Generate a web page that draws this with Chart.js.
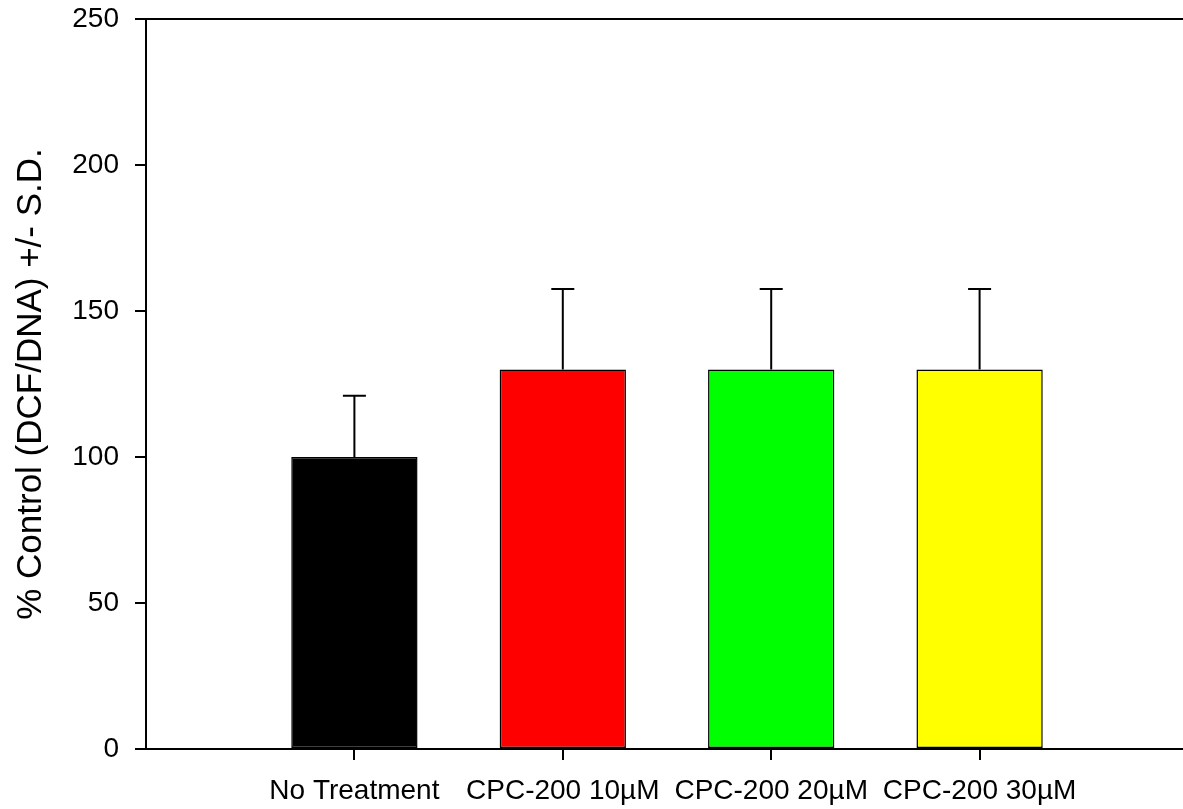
<!DOCTYPE html>
<html>
<head>
<meta charset="utf-8">
<script src="https://cdn.jsdelivr.net/npm/chart.js@4.4.1/dist/chart.umd.min.js"></script>
<style>
html,body{margin:0;padding:0;background:#fff;overflow:hidden;}
#wrap{position:relative;width:1200px;height:809px;}
</style>
</head>
<body>
<div id="wrap"><canvas id="c"></canvas></div>
<script>
const categories = ['No Treatment', 'CPC-200 10\u00b5M', 'CPC-200 20\u00b5M', 'CPC-200 30\u00b5M'];
const values = [100, 130, 130, 130];
const errors = [21, 27.5, 27.5, 27.5];
const barColors = ['#000000', '#ff0000', '#00ff00', '#ffff00'];
const yTicks = [0, 50, 100, 150, 200, 250];
const yTitle = '% Control (DCF/DNA) +/- S.D.';

const labels = [''].concat(categories, ['']);
const data = [null].concat(values, [null]);
const errs = [null].concat(errors, [null]);
const colors = ['#000'].concat(barColors, ['#000']);

const FONT = "'Liberation Sans', Arial, sans-serif";

const errorBars = {
  id: 'errorBars',
  afterDatasetsDraw(chart) {
    const ctx = chart.ctx;
    const meta = chart.getDatasetMeta(0);
    const y = chart.scales.y;
    ctx.save();
    ctx.strokeStyle = '#000';
    ctx.lineWidth = 2;
    meta.data.forEach((bar, i) => {
      if (data[i] == null) return;
      const x = bar.x;
      const yTop = y.getPixelForValue(data[i] + errs[i]);
      const yBase = y.getPixelForValue(data[i]);
      ctx.beginPath();
      ctx.moveTo(x, yBase);
      ctx.lineTo(x, yTop);
      ctx.moveTo(x - 11.5, yTop);
      ctx.lineTo(x + 11.5, yTop);
      ctx.stroke();
    });
    ctx.restore();
  }
};

const frame = {
  id: 'frame',
  afterDraw(chart) {
    const a = chart.chartArea;
    const ctx = chart.ctx;
    ctx.save();
    ctx.strokeStyle = '#000';
    ctx.lineWidth = 2;
    ctx.beginPath();
    ctx.moveTo(a.left - 1, a.top);
    ctx.lineTo(a.right + 20, a.top);
    ctx.stroke();
    ctx.restore();
  }
};

new Chart(document.getElementById('c'), {
  type: 'bar',
  data: {
    labels: labels,
    datasets: [{
      data: data,
      backgroundColor: colors,
      borderColor: '#000',
      borderWidth: 1.5,
      borderSkipped: false,
      categoryPercentage: 1,
      barPercentage: 0.606
    }]
  },
  options: {
    responsive: true,
    maintainAspectRatio: false,
    animation: false,
    devicePixelRatio: 1,
    layout: { padding: { left: 10, right: 12, top: 19, bottom: 0 } },
    plugins: { legend: { display: false }, tooltip: { enabled: false } },
    scales: {
      x: {
        type: 'category',
        offset: false,
        grid: {
          offset: false,
          drawOnChartArea: false,
          tickLength: 11,
          lineWidth: 2,
          color: (c) => (c.index === 0 || c.index === labels.length - 1) ? 'rgba(0,0,0,0)' : '#000'
        },
        border: { display: true, color: '#000', width: 2 },
        ticks: {
          autoSkip: false,
          maxRotation: 0,
          minRotation: 0,
          padding: 14,
          color: '#000',
          font: { family: FONT, size: 28 }
        },
        afterFit: (s) => { s.height = 60; s.paddingLeft = 0; s.paddingRight = 0; }
      },
      y: {
        min: 0,
        max: 250,
        afterBuildTicks: (s) => { s.ticks = yTicks.map(v => ({ value: v })); },
        grid: { drawOnChartArea: false, tickLength: 11, lineWidth: 2, color: '#000' },
        border: { display: true, color: '#000', width: 2 },
        ticks: {
          padding: 16,
          color: '#000',
          font: { family: FONT, size: 28 }
        },
        title: {
          display: true,
          text: yTitle,
          color: '#000',
          padding: 0,
          font: { family: FONT, size: 35 }
        },
        afterFit: (s) => { s.width = 136; s.paddingTop = 0; s.paddingBottom = 0; }
      }
    }
  },
  plugins: [errorBars, frame]
});
</script>
</body>
</html>
